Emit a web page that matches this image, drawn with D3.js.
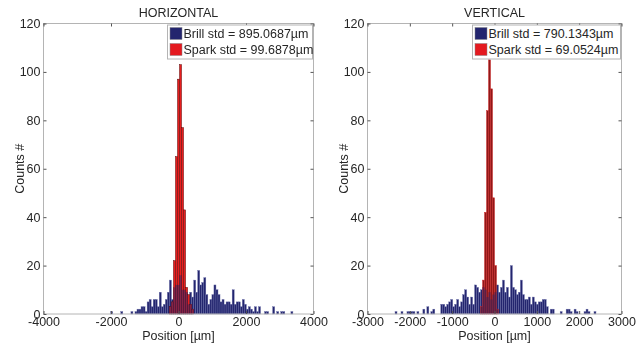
<!DOCTYPE html>
<html>
<head>
<meta charset="utf-8">
<script src="https://cdn.jsdelivr.net/npm/d3@7"></script>
<style>
  body { margin: 0; background: #fff; }
  text { font-family: "Liberation Sans", Arial, sans-serif; fill: #262626; }
</style>
</head>
<body>
<div id="chart"></div>
<script>
// HORIZONTAL panel data (bin counts on a regular grid)
const hBinWidth = 60;
const hBrillStart = -2010;
const hBrillCounts = [
  1, 0, 0, 0, 0, 1, 0, 0, 0, 0,
  1, 0, 1, 2, 2, 3, 3, 1, 5, 6,
  3, 6, 6, 3, 9, 3, 4, 6, 9, 14,
  6, 11, 12, 12, 16, 10, 10, 9, 4, 9,
  7, 14, 9, 18, 12, 13, 15, 8, 4, 6,
  8, 12, 10, 8, 5, 6, 4, 5, 5, 4,
  10, 4, 5, 5, 3, 6, 4, 2, 3, 2,
  1, 3, 1, 3, 0, 0, 1, 1, 0, 0,
  3, 0, 1, 0, 1, 1, 0, 0, 0, 1
];
const hSparkStart = -270;
const hSparkCounts = [3, 5, 22, 65, 97, 103, 77, 43, 11, 8, 4, 2];
const hStd = ['895.0687', '99.6878'];
const hTicks = [-4000, -2000, 0, 2000, 4000];

// VERTICAL panel data
const vBinWidth = 47;
const vBrillStart = -2350;
const vBrillCounts = [
  1, 0, 0, 1, 0, 0, 1, 1, 1, 1,
  0, 1, 0, 0, 2, 0, 3, 0, 1, 2,
  0, 0, 0, 4, 4, 3, 4, 5, 6, 3,
  4, 6, 3, 5, 8, 10, 7, 4, 7, 4,
  12, 11, 9, 10, 11, 10, 7, 9, 6, 8,
  9, 12, 9, 11, 14, 9, 11, 7, 20, 11,
  10, 8, 9, 14, 8, 6, 6, 7, 4, 7,
  5, 4, 5, 5, 6, 6, 3, 0, 2, 2,
  0, 0, 0, 1, 0, 0, 2, 2, 1, 0,
  2, 1, 0, 0, 0, 1, 2, 1, 0, 0,
  1
];
const vSparkStart = -329;
const vSparkCounts = [3, 14, 42, 84, 105, 93, 48, 20, 2];
const vStd = ['790.1343', '69.0524'];
const vTicks = [-3000, -2000, -1000, 0, 1000, 2000, 3000];

const yTicks = [0, 20, 40, 60, 80, 100, 120];
const yMax = 120;

const W = 643, H = 347;
const plotTop = 23.5, plotBottom = 314;

const svg = d3.select('#chart').append('svg')
  .attr('width', W).attr('height', H);
const defs = svg.append('defs');

function toBins(start, width, counts) {
  return counts.map((c, i) => ({ x0: start + i * width, x1: start + (i + 1) * width, n: c }));
}

function drawPanel(p) {
  const x = d3.scaleLinear().domain(p.domain).range([p.left, p.right]);
  const y = d3.scaleLinear().domain([0, yMax]).range([plotBottom, plotTop]);
  const g = svg.append('g');

  const brill = toBins(p.brillStart, p.binWidth, p.brillCounts).filter(d => d.n > 0);
  const spark = toBins(p.sparkStart, p.binWidth, p.sparkCounts).filter(d => d.n > 0);

  const bars = (sel, data) => sel.selectAll('rect').data(data).join('rect')
    .attr('x', d => x(d.x0))
    .attr('width', d => x(d.x1) - x(d.x0))
    .attr('y', d => y(d.n))
    .attr('height', d => y(0) - y(d.n));

  bars(g.append('g'), brill)
    .attr('fill', '#23256e').attr('stroke', '#6a6ea8').attr('stroke-width', 0.4);

  bars(g.append('g'), spark)
    .attr('fill', p.sparkFill).attr('stroke', p.sparkStroke).attr('stroke-width', 0.5);

  // darken where the two histograms overlap
  const clipId = 'clip-' + p.name;
  bars(defs.append('clipPath').attr('id', clipId), spark);
  bars(g.append('g').attr('clip-path', 'url(#' + clipId + ')'), brill)
    .attr('fill', '#23256e')
    .attr('opacity', 0.5)
    .style('mix-blend-mode', 'multiply');

  // frame
  g.append('rect')
    .attr('x', p.left).attr('y', plotTop)
    .attr('width', p.right - p.left).attr('height', plotBottom - plotTop)
    .attr('fill', 'none').attr('stroke', '#b4b4b4').attr('stroke-width', 1);

  const tl = 3;
  const fmt = d => String(d);
  const xAxis = d3.axisBottom(x).tickValues(p.ticks).tickSize(-tl).tickPadding(3).tickFormat(fmt);
  const xg = g.append('g').attr('transform', 'translate(0,' + plotBottom + ')').call(xAxis);
  xg.select('.domain').remove();
  xg.selectAll('line').attr('stroke', '#555');
  xg.selectAll('text').attr('font-size', 12.5).attr('font-family', null).attr('fill', null);

  const xTop = g.append('g').attr('transform', 'translate(0,' + plotTop + ')')
    .call(d3.axisTop(x).tickValues(p.ticks).tickSize(-tl).tickFormat(''));
  xTop.select('.domain').remove();
  xTop.selectAll('line').attr('stroke', '#555');

  const yAxis = d3.axisLeft(y).tickValues(yTicks).tickSize(-tl).tickPadding(3).tickFormat(fmt);
  const yg = g.append('g').attr('transform', 'translate(' + p.left + ',0)').call(yAxis);
  yg.select('.domain').remove();
  yg.selectAll('line').attr('stroke', '#555');
  yg.selectAll('text').attr('font-size', 12.5).attr('font-family', null).attr('fill', null);

  const yR = g.append('g').attr('transform', 'translate(' + p.right + ',0)')
    .call(d3.axisRight(y).tickValues(yTicks).tickSize(-tl).tickFormat(''));
  yR.select('.domain').remove();
  yR.selectAll('line').attr('stroke', '#555');

  g.append('text')
    .attr('x', (p.left + p.right) / 2).attr('y', 17)
    .attr('text-anchor', 'middle').attr('font-size', 12.5)
    .text(p.title);

  g.append('text')
    .attr('x', (p.left + p.right) / 2).attr('y', 340)
    .attr('text-anchor', 'middle').attr('font-size', 12.5)
    .text('Position [\u00b5m]');

  g.append('text')
    .attr('transform', 'translate(' + (p.left - 20) + ',' + ((plotTop + plotBottom) / 2) + ') rotate(-90)')
    .attr('text-anchor', 'middle').attr('font-size', 12.5)
    .text('Counts #');

  // legend
  const lw = p.legendWidth, lx = p.right - lw - 1, ly = plotTop + 1.5;
  const lg = g.append('g');
  lg.append('rect')
    .attr('x', lx).attr('y', ly).attr('width', lw).attr('height', 34)
    .attr('fill', '#fff').attr('stroke', '#b4b4b4');
  const items = [
    { label: 'Brill std = ' + p.std[0] + '\u00b5m', color: '#23256e' },
    { label: 'Spark std = ' + p.std[1] + '\u00b5m', color: '#e4191f' }
  ];
  items.forEach((it, i) => {
    lg.append('rect')
      .attr('x', lx + 2.5).attr('y', ly + 2.5 + i * 16)
      .attr('width', 12).attr('height', 12)
      .attr('fill', it.color).attr('stroke', '#888').attr('stroke-width', 0.5);
    lg.append('text')
      .attr('x', lx + 16).attr('y', ly + 13 + i * 16)
      .attr('font-size', 12.5)
      .text(it.label);
  });
}

drawPanel({
  name: 'h', title: 'HORIZONTAL', domain: [-4000, 4000], ticks: hTicks,
  left: 43.5, right: 313.5,
  binWidth: hBinWidth, brillStart: hBrillStart, brillCounts: hBrillCounts,
  sparkStart: hSparkStart, sparkCounts: hSparkCounts, std: hStd,
  sparkFill: '#e81e1e', sparkStroke: '#5a0a0a', legendWidth: 145
});

drawPanel({
  name: 'v', title: 'VERTICAL', domain: [-3000, 3000], ticks: vTicks,
  left: 367.5, right: 621.5,
  binWidth: vBinWidth, brillStart: vBrillStart, brillCounts: vBrillCounts,
  sparkStart: vSparkStart, sparkCounts: vSparkCounts, std: vStd,
  sparkFill: '#901818', sparkStroke: '#d02a2a', legendWidth: 148
});
</script>
</body>
</html>
